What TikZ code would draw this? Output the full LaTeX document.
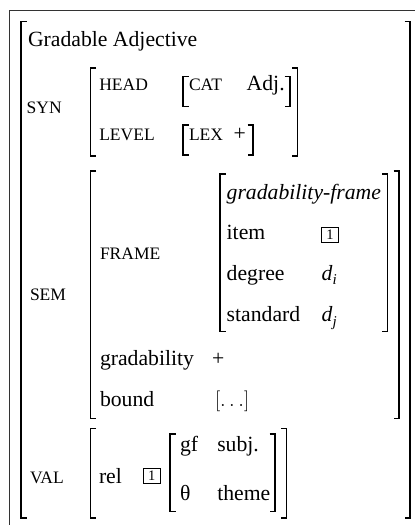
\documentclass[tikz,border=0pt]{standalone}
\usepackage{fontspec}
\setmainfont{Liberation Serif}
\newcommand{\avmL}[3]{\draw[brk] ({#1+5.5},#2) -- (#1,#2) -- (#1,#3) -- ({#1+5.5},#3);}
\newcommand{\avmR}[3]{\draw[brk] ({#1-5.5},#2) -- (#1,#2) -- (#1,#3) -- ({#1-5.5},#3);}
\newcommand{\dsub}[1]{\textit{d}\raisebox{-4.5pt}{\fontsize{15}{15}\selectfont\itshape #1}}
\begin{document}
\begin{tikzpicture}[x=1pt,y=-1pt,
  txt/.style={anchor=base west,inner sep=0pt,outer sep=0pt,font=\fontsize{21.7}{26}\selectfont},
  sc/.style={anchor=base west,inner sep=0pt,outer sep=0pt,font=\fontsize{17.5}{20}\selectfont},
  brk/.style={line width=1.3pt,line cap=butt},
  tagbox/.style={draw,line width=0.8pt,inner sep=0pt,minimum width=16.5pt,minimum height=15pt,font=\fontsize{14.5}{14.5}\selectfont}]
\useasboundingbox (0,0) rectangle (415,525);
% frame
\draw[line width=1pt,black!80] (9.5,530) -- (9.5,10.5) -- (420,10.5);
% brackets
\avmL{21}{21.5}{518}  \avmR{410}{21.5}{518}
\avmL{90.7}{68}{156}  \avmR{297.7}{68}{156}
\avmL{183}{76.7}{106.7} \avmR{290}{76.7}{106.7}
\avmL{183}{125}{155}  \avmR{253}{125}{155}
\avmL{90.7}{171}{418.3} \avmR{399}{171}{418.3}
\avmL{220}{174}{331.7} \avmR{387.7}{174}{331.7}
\avmL{90.7}{428.3}{518} \avmR{286.7}{428.3}{518}
\avmL{170}{434}{511.7} \avmR{275}{434}{511.7}
% texts
\node[txt] (title) at (28,46.7) {Gradable Adjective};
\node[sc] (syn) at (26.7,113) {SYN};
\node[sc] (head) at (99.3,90.7) {HEAD};
\node[sc] (cat) at (189,90.7) {CAT};
\node[txt] (adj) at (246.7,90.7) {Adj.};
\node[sc] (level) at (99.3,140) {LEVEL};
\node[sc] (lex) at (189,140) {LEX};
\node[txt] (lexv) at (233.5,140) {+};
\node[sc] (sem) at (30,300) {SEM};
\node[sc] (frame) at (100,259.3) {FRAME};
\node[txt] (gf) at (226.7,199.3) {\itshape gradability-frame};
\node[txt] (item) at (226.7,239.3) {item};
\node[tagbox] (t1) at (330,235) {1};
\node[txt] (deg) at (226.7,280) {degree};
\node[txt] (di) at (321.7,280) {\dsub{i}};
\node[txt] (std) at (226.7,321.7) {standard};
\node[txt] (dj) at (321.7,321.7) {\dsub{j}};
\node[txt] (grad) at (100,365) {gradability};
\node[txt] (gradv) at (212,365) {+};
\node[txt] (bound) at (100,406.7) {bound};
\node[txt] (boundv) at (215,406.7) {$[\ldots]$};
\node[sc] (val) at (30,483) {VAL};
\node[txt] (rel) at (99,483) {rel};
\node[tagbox] (t2) at (151.7,475.8) {1};
\node[txt] (gfa) at (180,451.7) {gf};
\node[txt] (subj) at (217.3,451.7) {subj.};
\node[txt] (theta) at (180,500) {θ};
\node[txt] (theme) at (217.3,500) {theme};
\end{tikzpicture}
\end{document}
